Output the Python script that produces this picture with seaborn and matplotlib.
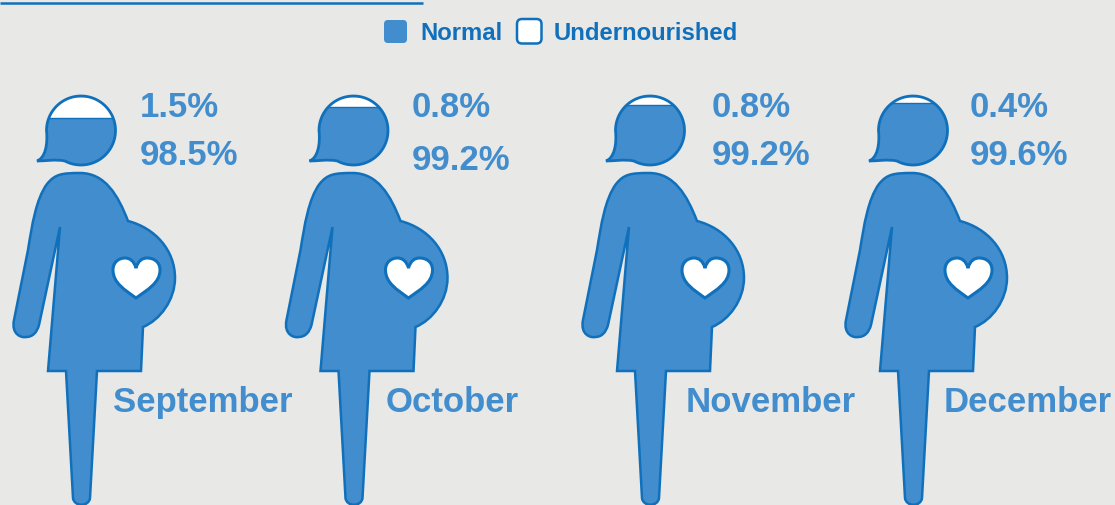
import numpy as np
import pandas as pd
import seaborn as sns
import matplotlib.pyplot as plt
from matplotlib.patches import FancyBboxPatch, PathPatch
from matplotlib.path import Path
from matplotlib.transforms import Affine2D

# values
months = ['September', 'October', 'November', 'December']
undernourished = [1.5, 0.8, 0.8, 0.4]
normal = [98.5, 99.2, 99.2, 99.6]
# white cap of the head, as a share of the head height (not to scale with the %)
white_share = [0.32, 0.165, 0.13, 0.105]

# layout, in pixels of the 1115x505 image
head_x = [81, 353.5, 650, 913]
value_x = [140, 412, 712, 970]
month_x = [113, 386, 686, 944]
normal_y = [165, 170, 165, 165]

BG = '#E8E8E6'
FILL = '#418DCD'
EDGE = '#1070BB'
HEAD_Y, HEAD_R = 130.5, 34.5
HEAD_TOP = HEAD_Y - HEAD_R

M, L, C, Z = Path.MOVETO, Path.LINETO, Path.CURVE4, Path.CLOSEPOLY


def make_path(steps):
    verts, codes = [], []
    for code, pts in steps:
        verts += pts
        codes += [code] * len(pts)
    return Path(verts, codes)


# woman's body and arm, drawn around head_x = 81
body = make_path([
    (M, [(60, 227)]),
    (L, [(48, 371), (66, 371), (73, 498)]),
    (C, [(74, 507), (89, 507), (90, 498)]),
    (L, [(97, 371), (141, 371), (143, 327)]),
    (C, [(160, 320), (175, 300), (175, 278)]),
    (C, [(175, 250), (155, 228), (128, 221)]),
    (C, [(118, 195), (105, 173), (80, 173)]),
    (C, [(62, 173), (55, 174), (47, 184)]),
    (C, [(36, 199), (32, 225), (28, 250)]),
    (L, [(14, 320)]),
    (C, [(11, 335), (22, 338), (26, 337)]),
    (C, [(33, 337), (37, 332), (39, 325)]),
    (L, [(60, 227)]),
    (Z, [(60, 227)]),
])

heart = make_path([
    (M, [(136, 298)]),
    (C, [(125, 290), (113, 283), (113, 270)]),
    (C, [(113, 262), (119, 258), (125, 258)]),
    (C, [(130, 258), (134, 261), (136, 268)]),
    (C, [(138, 261), (142, 258), (147, 258)]),
    (C, [(154, 258), (160, 262), (160, 270)]),
    (C, [(160, 283), (147, 290), (136, 298)]),
    (Z, [(136, 298)]),
])

# head: arc from the left side over the top to the chin, then the hair tip
t = np.radians(np.linspace(180, 478, 80))
arc = list(zip(81 + HEAD_R * np.cos(t), HEAD_Y + HEAD_R * np.sin(t)))
head = make_path([
    (M, arc[:1]),
    (L, arc[1:]),
    (C, [(55, 159), (45, 161), (37, 161)]),
    (C, [(45, 158), (48, 145), (46.5, 130.5)]),
    (Z, arc[:1]),
])

sns.set_theme(style='white')
plt.rcParams['font.family'] = ['Liberation Sans', 'DejaVu Sans']

fig = plt.figure(figsize=(11.15, 5.05), dpi=100, facecolor=BG)
ax = fig.add_axes([0, 0, 1, 1], facecolor=BG)

heads = []
for x in head_x:
    move = Affine2D().translate(x - 81, 0)
    ax.add_patch(PathPatch(body.transformed(move), fc=FILL, ec=EDGE, lw=1.8, zorder=2))
    ax.add_patch(PathPatch(heart.transformed(move), fc='white', ec=EDGE, lw=2.2, zorder=3))
    h = PathPatch(head.transformed(move), fc=FILL, ec='none', zorder=1)
    ax.add_patch(h)
    heads.append(h)

# white cap of each head, a bar clipped to the head shape
caps = pd.DataFrame({'x': head_x, 'cap': [s * 2 * HEAD_R for s in white_share]})
sns.barplot(data=caps, x='x', y='cap', native_scale=True, width=0.3, bottom=HEAD_TOP,
            color='white', saturation=1, edgecolor=EDGE, linewidth=1, zorder=2, ax=ax)
for bar, h in zip(ax.containers[0], heads):
    bar.set_clip_path(h)

# head outline on top of the cap
for x in head_x:
    move = Affine2D().translate(x - 81, 0)
    ax.add_patch(PathPatch(head.transformed(move), fc='none', ec=EDGE, lw=2, zorder=4))

for i, month in enumerate(months):
    ax.text(value_x[i], 117, f'{undernourished[i]}%', color=FILL, fontsize=25,
            fontweight='bold', va='baseline')
    ax.text(value_x[i], normal_y[i], f'{normal[i]}%', color=FILL, fontsize=25,
            fontweight='bold', va='baseline')
    ax.text(month_x[i], 412, month, color=FILL, fontsize=25, fontweight='bold', va='baseline')

# legend
ax.add_patch(FancyBboxPatch((384, 20), 23, 23, boxstyle='round,pad=0,rounding_size=4',
                            fc=FILL, ec='none'))
ax.add_patch(FancyBboxPatch((517, 19), 24.5, 24.5, boxstyle='round,pad=0,rounding_size=5',
                            fc='white', ec=EDGE, lw=1.8))
ax.text(420, 39.5, 'Normal', color=EDGE, fontsize=17.2, fontweight='bold', va='baseline')
ax.text(554, 39.5, 'Undernourished', color=EDGE, fontsize=17.2, fontweight='bold', va='baseline')

# rule at the top
ax.plot([0, 423], [3, 3], color=EDGE, lw=1.8, solid_capstyle='butt')

ax.set_xlim(0, 1115)
ax.set_ylim(505, 0)
ax.axis('off')
fig.savefig('out.png', dpi=100, facecolor=BG)
